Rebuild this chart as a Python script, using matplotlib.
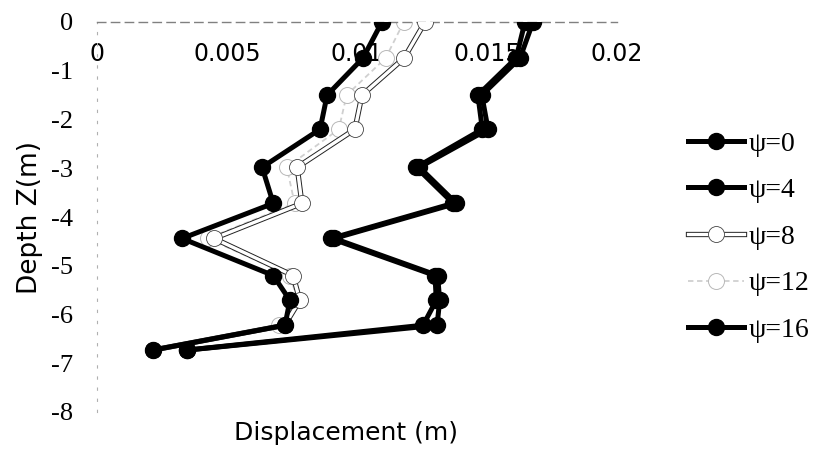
import matplotlib
matplotlib.use("Agg")
import matplotlib.pyplot as plt
import matplotlib.patheffects as pe
from matplotlib.legend_handler import HandlerTuple

depth = [0, -0.74, -1.5, -2.2, -2.98, -3.72, -4.44, -5.2, -5.71, -6.22, -6.73]
psi0 = [0.01096, 0.01023, 0.00885, 0.00858, 0.00635, 0.00678, 0.00327, 0.00678, 0.00742, 0.00723, 0.00215]
psi4 = [0.01646, 0.01612, 0.01465, 0.01482, 0.01228, 0.01370, 0.00900, 0.01300, 0.01305, 0.01254, 0.00346]
psi8 = [0.01262, 0.01181, 0.01019, 0.00992, 0.00770, 0.00788, 0.00450, 0.00754, 0.00780, 0.00722, 0.00215]
psi12 = [0.01180, 0.01110, 0.00960, 0.00930, 0.00730, 0.00760, 0.00425, 0.00742, 0.00772, 0.00700, 0.00215]
psi16 = [0.01677, 0.01627, 0.01480, 0.01504, 0.01240, 0.01382, 0.00912, 0.01310, 0.01318, 0.01308, 0.00346]
labels = ["ψ=0", "ψ=4", "ψ=8", "ψ=12", "ψ=16"]
xticks = [0, 0.005, 0.01, 0.015, 0.02]
xticklabels = ["0", "0.005", "0.01", "0.015", "0.02"]
yticks = [0, -1, -2, -3, -4, -5, -6, -7, -8]

fig = plt.figure(figsize=(8.13, 4.49), dpi=100)
ax = fig.add_axes([97/813, 1-412/449, 520/813, 390/449])

lw = 3.6
ms = 11.5
h0, = ax.plot(psi0, depth, color="black", lw=lw, marker="o", ms=ms, mfc="black", mec="black", zorder=4)
h4, = ax.plot(psi4, depth, color="black", lw=lw, marker="o", ms=ms, mfc="black", mec="black", zorder=4)
h8l, = ax.plot(psi8, depth, color="white", lw=2.4,
               path_effects=[pe.Stroke(linewidth=3.8, foreground="#222222"), pe.Normal()], zorder=3)
h8m, = ax.plot(psi8, depth, ls="none", marker="o", ms=ms, mfc="white", mec="#444444", mew=0.6, zorder=3)
h12, = ax.plot(psi12, depth, color="#d0d0d0", lw=1.3, ls=(0, (3, 2)), marker="o", ms=ms, mfc="white",
               mec="#b8b8b8", mew=0.7, zorder=2)
h16, = ax.plot(psi16, depth, color="black", lw=lw, marker="o", ms=ms, mfc="black", mec="black", zorder=5)

ax.set_xlim(0, 0.02)
ax.set_ylim(-8, 0)
ax.xaxis.tick_top()
ax.set_xticks(xticks)
ax.set_xticklabels(xticklabels, fontsize=17, family="DejaVu Sans")
ax.set_yticks(yticks)
ax.set_yticklabels([str(t) for t in yticks], fontsize=19, family="Liberation Serif")
ax.tick_params(axis="x", length=0, pad=-32)
ax.tick_params(axis="y", length=0, pad=17)
for s in ["right", "bottom"]:
    ax.spines[s].set_visible(False)
ax.spines["top"].set_linestyle((0, (6, 4)))
ax.spines["top"].set_color("#808080")
ax.spines["top"].set_linewidth(1.0)
ax.spines["left"].set_linestyle((0, (2, 8)))
ax.spines["left"].set_color("#b0b0b0")
ax.spines["left"].set_linewidth(0.8)

fig.text(346/813, 1-433/449, "Displacement (m)", fontsize=18, family="DejaVu Sans", ha="center", va="center")
fig.text(30/813, 1-218/449, "Depth Z(m)", fontsize=19, family="DejaVu Sans", ha="center", va="center", rotation=90)

leg = ax.legend([h0, h4, (h8l, h8m), h12, h16], labels, loc="center left",
                handler_map={tuple: HandlerTuple(ndivide=1, pad=0)},
                bbox_to_anchor=(688/813, 1-237/449), bbox_transform=fig.transFigure,
                frameon=False, prop={"family": "Liberation Serif", "size": 20}, handlelength=2.0,
                handletextpad=0.2, labelspacing=0.76, borderpad=0, borderaxespad=0)

fig.savefig("out.png", dpi=100)
